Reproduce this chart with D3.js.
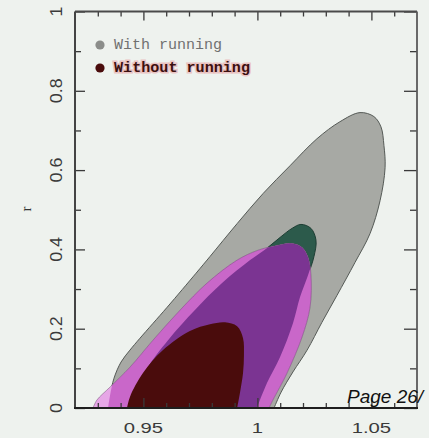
<!DOCTYPE html>
<html>
<head>
<meta charset="utf-8">
<script src="https://cdn.jsdelivr.net/npm/d3@7"></script>
<style>
  html, body { margin: 0; padding: 0; background: #eef2ee; }
  svg { display: block; }
</style>
</head>
<body>
<svg id="chart" width="429" height="438"></svg>
<script>
// Tick values and labels
const xTicksMajor = [0.95, 1, 1.05];
const xTicksMinor = [0.93, 0.94, 0.96, 0.97, 0.98, 0.99, 1.01, 1.02, 1.03, 1.04, 1.06];
const xTickLabels = ["0.95", "1", "1.05"];
const yTicksMajor = [0, 0.2, 0.4, 0.6, 0.8, 1];
const yTicksMinor = [0.1, 0.3, 0.5, 0.7, 0.9];
const yTickLabels = ["0", "0.2", "0.4", "0.6", "0.8", "1"];
const legendLabels = ["With running", "Without running"];

// Credible-region outlines in (n_s, r), traced from the lower-left corner
// round the top and back down to the r = 0 edge.
const withRunning95 = [
  [0.9345, 0], [0.9354, 0.033], [0.9371, 0.075], [0.9402, 0.116], [0.9441, 0.146],
  [0.9485, 0.176], [0.9604, 0.254], [0.9731, 0.340], [0.9792, 0.382], [0.9911, 0.465],
  [1.0025, 0.541], [1.0143, 0.611], [1.0261, 0.679], [1.0362, 0.722], [1.0450, 0.745],
  [1.0511, 0.735], [1.0542, 0.709], [1.0555, 0.662], [1.0560, 0.606], [1.0538, 0.523],
  [1.0494, 0.440], [1.0428, 0.367], [1.0349, 0.284], [1.0283, 0.216], [1.0218, 0.146],
  [1.0156, 0.091], [1.0104, 0.040], [1.0073, 0]
];
const withRunning68 = [
  [0.9454, 0], [0.9485, 0.058], [0.9520, 0.103], [0.9608, 0.171], [0.9726, 0.247],
  [0.9845, 0.315], [0.9968, 0.373], [1.0046, 0.405], [1.0099, 0.430], [1.0152, 0.453],
  [1.0191, 0.463], [1.0235, 0.453], [1.0257, 0.423], [1.0248, 0.382], [1.0222, 0.335],
  [1.0187, 0.280], [1.0156, 0.214], [1.0099, 0.128], [1.0042, 0.063], [0.9998, 0]
];
const withoutRunning95 = [
  [0.9279, 0], [0.9296, 0.020], [0.9354, 0.053], [0.9441, 0.103], [0.9542, 0.171],
  [0.9661, 0.247], [0.9779, 0.315], [0.9911, 0.373], [1.0003, 0.398], [1.0086, 0.410],
  [1.0152, 0.415], [1.0196, 0.405], [1.0222, 0.380], [1.0235, 0.335], [1.0231, 0.254],
  [1.0196, 0.179], [1.0130, 0.088], [1.0068, 0.020], [1.0051, 0]
];
const withoutRunning68 = [
  [0.9428, 0], [0.9441, 0.028], [0.9498, 0.088], [0.9586, 0.146], [0.9704, 0.194],
  [0.9792, 0.211], [0.9858, 0.216], [0.9911, 0.206], [0.9937, 0.176], [0.9941, 0.133],
  [0.9937, 0.088], [0.9924, 0.040], [0.9911, 0]
];

const svg = d3.select("#chart");
const W = 429, H = 438;
const frameL = 75, frameR = 417, frameT = 11.5, frameB = 408;

const x = d3.scaleLinear().domain([0.92, 1.07]).range([frameL, frameR]);
const y = d3.scaleLinear().domain([0, 1]).range([frameB, frameT]);

svg.append("rect").attr("width", W).attr("height", H).attr("fill", "#eef2ee");

const defs = svg.append("defs");
defs.append("clipPath").attr("id", "plotClip")
  .append("rect").attr("x", frameL).attr("y", frameT)
  .attr("width", frameR - frameL).attr("height", frameB - frameT);

const outline = d3.line()
  .x(d => x(d[0])).y(d => y(d[1]))
  .curve(d3.curveCatmullRom.alpha(0.5));
const region = pts => outline(pts) + "Z";

defs.append("clipPath").attr("id", "clipWith95").append("path").attr("d", region(withRunning95));
defs.append("clipPath").attr("id", "clipWith68").append("path").attr("d", region(withRunning68));

const plot = svg.append("g").attr("clip-path", "url(#plotClip)");

// with running: outer and inner regions
plot.append("path").attr("d", region(withRunning95))
  .attr("fill", "#a7a9a4").attr("stroke", "#555a56").attr("stroke-width", 1);
plot.append("path").attr("d", region(withRunning68))
  .attr("fill", "#2c5a4b").attr("stroke", "#1d3d33").attr("stroke-width", 1);

// without running, outer region: tinted by what lies beneath it
plot.append("path").attr("d", region(withoutRunning95))
  .attr("fill", "#e6a6e6");
plot.append("g").attr("clip-path", "url(#clipWith95)")
  .append("path").attr("d", region(withoutRunning95)).attr("fill", "#c967c9");
plot.append("g").attr("clip-path", "url(#clipWith68)")
  .append("path").attr("d", region(withoutRunning95)).attr("fill", "#7b3492");
plot.append("path").attr("d", region(withoutRunning95))
  .attr("fill", "none").attr("stroke", "#6a4a6e").attr("stroke-width", 0.8).attr("stroke-opacity", 0.6);

// without running, inner region
plot.append("path").attr("d", region(withoutRunning68)).attr("fill", "#4a0c0c");

// Inward-pointing ticks on all four sides
function ticks(gen, tx, ty, values, size) {
  const g = svg.append("g").attr("transform", `translate(${tx},${ty})`)
    .call(gen.tickValues(values).tickSize(size).tickFormat(""));
  g.select(".domain").remove();
  g.selectAll("line").attr("stroke", "#3a3a3a").attr("stroke-width", 1.3);
  return g;
}
ticks(d3.axisBottom(x), 0, frameB, xTicksMajor, -10);
ticks(d3.axisBottom(x), 0, frameB, xTicksMinor, -5);
ticks(d3.axisTop(x), 0, frameT, xTicksMajor, -9);
ticks(d3.axisTop(x), 0, frameT, xTicksMinor, -5);
ticks(d3.axisLeft(y), frameL, 0, yTicksMajor, -10);
ticks(d3.axisLeft(y), frameL, 0, yTicksMinor, -6);
ticks(d3.axisRight(y), frameR, 0, yTicksMajor, -13);
ticks(d3.axisRight(y), frameR, 0, yTicksMinor, -7);

// Frame
svg.append("line").attr("x1", frameL).attr("x2", frameR).attr("y1", frameT).attr("y2", frameT)
  .attr("stroke", "#4a4a4a").attr("stroke-width", 1.8);
svg.append("line").attr("x1", frameR).attr("x2", frameR).attr("y1", frameT).attr("y2", frameB)
  .attr("stroke", "#5a5a5a").attr("stroke-width", 1.8);
svg.append("line").attr("x1", frameL).attr("x2", frameL).attr("y1", frameT).attr("y2", frameB)
  .attr("stroke", "#444").attr("stroke-width", 2);
svg.append("line").attr("x1", frameL - 1).attr("x2", frameR + 1).attr("y1", frameB).attr("y2", frameB)
  .attr("stroke", "#1e1e1e").attr("stroke-width", 2);

// Stretch a text element along its reading direction
function widen(sel, k) {
  sel.each(function () {
    const len = this.getComputedTextLength();
    d3.select(this).attr("textLength", len * k).attr("lengthAdjust", "spacingAndGlyphs");
  });
}

// x tick labels
const xl = svg.append("g").selectAll("text").data(xTicksMajor).join("text")
  .attr("x", d => x(d)).attr("y", 433)
  .attr("text-anchor", "middle")
  .attr("font-family", "Liberation Sans, Arial, sans-serif")
  .attr("font-size", 15).attr("fill", "#3a3a3a")
  .text((d, i) => xTickLabels[i]);
widen(xl, 1.35);

// y tick labels, rotated
const yl = svg.append("g").selectAll("text").data(yTicksMajor).join("text")
  .attr("transform", d => `translate(62,${y(d)}) rotate(-90)`)
  .attr("text-anchor", "middle")
  .attr("font-family", "Liberation Sans, Arial, sans-serif")
  .attr("font-size", 17).attr("fill", "#3a3a3a")
  .text((d, i) => yTickLabels[i]);
widen(yl, 1.05);

// y axis title
svg.append("text").attr("transform", "translate(31,209) rotate(-90)")
  .attr("text-anchor", "middle")
  .attr("font-family", "Liberation Serif, serif").attr("font-size", 15)
  .attr("fill", "#333").text("r");

// Legend
const legend = svg.append("g");
legend.append("circle").attr("cx", 100).attr("cy", 45).attr("r", 4.6).attr("fill", "#8b8d8a");
legend.append("circle").attr("cx", 100).attr("cy", 68).attr("r", 4.6).attr("fill", "#4a0c0c");
legend.append("text").attr("x", 114).attr("y", 49)
  .attr("font-family", "Liberation Mono, monospace").attr("font-size", 14)
  .attr("fill", "#707070").attr("textLength", 108).attr("lengthAdjust", "spacingAndGlyphs")
  .text(legendLabels[0]);
legend.append("text").attr("x", 114).attr("y", 72)
  .attr("font-family", "Liberation Mono, monospace").attr("font-size", 14).attr("font-weight", "bold")
  .attr("fill", "none").attr("stroke", "#e9b8b8").attr("stroke-width", 3).attr("stroke-opacity", 0.8)
  .attr("textLength", 136).attr("lengthAdjust", "spacingAndGlyphs")
  .text(legendLabels[1]);
legend.append("text").attr("x", 114).attr("y", 72)
  .attr("font-family", "Liberation Mono, monospace").attr("font-size", 14).attr("font-weight", "bold")
  .attr("fill", "#3c1010").attr("textLength", 136).attr("lengthAdjust", "spacingAndGlyphs")
  .text(legendLabels[1]);

// Page marker
svg.append("text").attr("x", 347).attr("y", 403)
  .attr("font-family", "Liberation Sans, Arial, sans-serif").attr("font-style", "italic")
  .attr("font-size", 19).attr("fill", "#111")
  .text("Page 26/");
</script>
</body>
</html>
